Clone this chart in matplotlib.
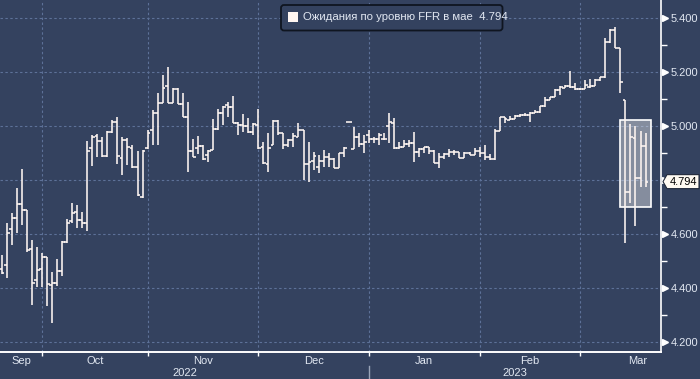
import numpy as np
import pandas as pd
import matplotlib
matplotlib.use("Agg")
import matplotlib.pyplot as plt
from matplotlib.patches import FancyBboxPatch, Rectangle, Polygon
from matplotlib.transforms import blended_transform_factory, ScaledTranslation, IdentityTransform

plt.rcParams['font.family'] = ['Liberation Sans', 'DejaVu Sans']

# ---------------- data ----------------
dates = pd.bdate_range('2022-09-20', '2023-03-17')

opens = [4.470, 4.485, 4.620, 4.660, 4.710, 4.690, 4.545, 4.430, 4.470, 4.515,
         4.410, 4.420, 4.463, 4.570, 4.650, 4.680, 4.652, 4.640, 4.920, 4.963,
         4.944, 4.888, 4.978, 5.015, 4.880, 4.948, 4.920, 4.848, 4.737, 4.918,
         4.985, 5.050, 5.085, 5.148, 5.085, 5.137, 5.080, 5.033, 4.907, 4.918,
         4.926, 4.893, 4.910, 4.990, 5.048, 5.076, 5.070, 5.011, 5.004, 5.000,
         4.978, 5.004, 4.922, 4.860, 4.930, 5.019, 4.974, 4.930, 4.948, 4.960,
         4.985, 4.860, 4.870, 4.850, 4.870, 4.885, 4.878, 4.844, 4.900, 5.015,
         4.915, 4.959, 4.933, 4.967, 4.952, 4.952, 4.952, 5.000, 5.011, 4.918,
         4.922, 4.933, 4.937, 4.904, 4.915, 4.922, 4.907, 4.863, 4.885, 4.896,
         4.904, 4.904, 4.881, 4.900, 4.893, 4.907, 4.900, 4.885, 4.878, 4.982,
         5.033, 5.022, 5.026, 5.037, 5.041, 5.041, 5.048, 5.052, 5.074, 5.096,
         5.107, 5.133, 5.141, 5.148, 5.144, 5.137, 5.137, 5.144, 5.148, 5.170,
         5.181, 5.311, 5.356, 5.289, 5.096, 4.757, 4.956, 4.807, 4.926]

highs = [4.522, 4.640, 4.678, 4.770, 4.840, 4.690, 4.578, 4.552, 4.530, 4.515,
         4.460, 4.507, 4.574, 4.656, 4.715, 4.707, 4.681, 4.944, 4.965, 4.970,
         4.960, 4.981, 5.022, 5.033, 4.959, 4.956, 4.930, 4.907, 4.911, 4.985,
         5.060, 5.122, 5.190, 5.220, 5.141, 5.140, 5.122, 5.090, 4.952, 4.963,
         4.930, 4.911, 5.026, 5.063, 5.074, 5.089, 5.111, 5.015, 5.044, 5.030,
         5.011, 5.063, 4.941, 4.974, 5.022, 5.022, 4.974, 4.952, 4.974, 5.011,
         4.985, 4.941, 4.904, 4.893, 4.910, 4.900, 4.881, 4.900, 4.922, 5.015,
         4.996, 4.974, 4.967, 4.985, 4.960, 4.974, 4.974, 5.048, 5.030, 4.941,
         4.948, 4.948, 4.978, 4.918, 4.922, 4.922, 4.911, 4.900, 4.900, 4.915,
         4.911, 4.904, 4.904, 4.904, 4.918, 4.922, 4.930, 4.896, 4.989, 5.033,
         5.033, 5.037, 5.041, 5.044, 5.048, 5.052, 5.059, 5.074, 5.107, 5.107,
         5.137, 5.148, 5.152, 5.204, 5.159, 5.141, 5.170, 5.174, 5.174, 5.181,
         5.326, 5.359, 5.367, 5.289, 5.096, 5.007, 5.000, 4.981, 4.974]

lows = [4.452, 4.437, 4.560, 4.605, 4.633, 4.535, 4.337, 4.404, 4.405, 4.333,
        4.270, 4.407, 4.444, 4.567, 4.640, 4.622, 4.622, 4.611, 4.852, 4.885,
        4.885, 4.885, 4.974, 4.859, 4.819, 4.856, 4.844, 4.741, 4.733, 4.915,
        4.930, 4.930, 5.085, 5.085, 5.085, 5.080, 5.033, 4.830, 4.885, 4.896,
        4.874, 4.867, 4.910, 4.985, 5.004, 5.033, 5.011, 4.967, 4.978, 4.974,
        4.967, 4.915, 4.859, 4.830, 4.930, 4.967, 4.915, 4.922, 4.922, 4.959,
        4.800, 4.793, 4.837, 4.826, 4.850, 4.848, 4.844, 4.844, 4.885, 5.015,
        4.915, 4.922, 4.900, 4.937, 4.937, 4.930, 4.948, 4.937, 4.915, 4.915,
        4.922, 4.922, 4.867, 4.885, 4.900, 4.896, 4.863, 4.844, 4.878, 4.885,
        4.893, 4.881, 4.881, 4.893, 4.893, 4.885, 4.874, 4.874, 4.874, 4.982,
        5.011, 5.022, 5.026, 5.033, 5.037, 5.015, 5.048, 5.048, 5.070, 5.096,
        5.107, 5.115, 5.141, 5.141, 5.133, 5.133, 5.137, 5.141, 5.148, 5.167,
        5.178, 5.307, 5.289, 5.122, 4.567, 4.715, 4.630, 4.774, 4.774]

closes = [4.455, 4.604, 4.660, 4.710, 4.690, 4.540, 4.420, 4.467, 4.515, 4.415,
          4.420, 4.463, 4.570, 4.640, 4.678, 4.652, 4.641, 4.907, 4.960, 4.944,
          4.888, 4.978, 5.015, 4.889, 4.948, 4.922, 4.848, 4.744, 4.907, 4.974,
          5.050, 5.085, 5.140, 5.085, 5.137, 5.082, 5.035, 4.907, 4.887, 4.926,
          4.878, 4.908, 4.989, 5.048, 5.070, 5.070, 5.011, 5.004, 5.000, 4.978,
          5.007, 4.918, 4.863, 4.918, 5.019, 4.974, 4.930, 4.948, 4.963, 4.985,
          4.859, 4.867, 4.889, 4.870, 4.885, 4.878, 4.844, 4.900, 4.918, 5.015,
          4.959, 4.933, 4.941, 4.952, 4.952, 4.967, 4.952, 5.015, 4.918, 4.922,
          4.933, 4.937, 4.904, 4.915, 4.922, 4.907, 4.863, 4.885, 4.896, 4.904,
          4.904, 4.881, 4.900, 4.893, 4.907, 4.900, 4.885, 4.878, 4.982, 5.033,
          5.026, 5.025, 5.037, 5.041, 5.041, 5.048, 5.052, 5.074, 5.096, 5.107,
          5.133, 5.144, 5.148, 5.144, 5.137, 5.137, 5.152, 5.148, 5.170, 5.181,
          5.311, 5.356, 5.289, 5.163, 4.757, 4.959, 4.807, 4.926, 4.794]

y_major = [4.2, 4.4, 4.6, 4.8, 5.0, 5.2, 5.4]
y_minor = [4.3, 4.5, 4.7, 4.9, 5.1, 5.3]
month_names = ['Sep', 'Oct', 'Nov', 'Dec', 'Jan', 'Feb', 'Mar']
year_names = ['2022', '2023']
legend_label = 'Ожидания по уровню FFR в мае'
last_value = closes[-1]

# highlight box (index units / price units)
box_x = (122.9, 129.1)
box_y = (4.700, 5.022)

# ---------------- style ----------------
BG = '#34425f'
GRID = '#5d7198'
BAR = '#fff6f2'
TXT = '#e2e8f2'

W, H = 700, 379
fig = plt.figure(figsize=(W / 100, H / 100), dpi=100, facecolor=BG)
ax_left, ax_bottom, ax_right, ax_top = 0, 27, 661, 379
ax = fig.add_axes([ax_left / W, ax_bottom / H, (ax_right - ax_left) / W, (ax_top - ax_bottom) / H])
ax.set_facecolor(BG)

x = np.arange(len(dates))
xmin, xmax = -0.34, 131.07
ax.set_xlim(xmin, xmax)
ax.set_ylim(4.163, 5.4667)

# OHLC bars
tick = 0.55
ax.vlines(x, lows, highs, color=BAR, lw=1.15, zorder=4)
ax.hlines(opens, x - tick, x, color=BAR, lw=1.15, zorder=4)
ax.hlines(closes, x, x + tick, color=BAR, lw=1.15, zorder=4)

# highlight box
ax.add_patch(Rectangle((box_x[0], box_y[0]), box_x[1] - box_x[0], box_y[1] - box_y[0],
                       facecolor=(1, 1, 1, 0.40), edgecolor='white', lw=1.2, zorder=3))

# month boundaries
mon = np.array(dates.month)
month_ends = [int(np.where(mon == m)[0][-1]) for m in [9, 10, 11, 12, 1, 2]]
mar_end = month_ends[-1] + len(pd.bdate_range('2023-03-01', '2023-03-31'))
edges = [xmin] + month_ends + [mar_end]
month_centers = [(edges[k] + edges[k + 1]) / 2 for k in range(len(month_names))]

ax.set_xticks(month_ends)
ax.tick_params(axis='x', which='major', length=3, width=1, color='white',
               direction='out', labelbottom=False)
ax.set_yticks(y_major)
ax.set_yticks(y_minor, minor=True)
ax.set_yticklabels([f'{v:.3f}' for v in y_major])
ax.yaxis.tick_right()
ax.tick_params(axis='y', which='major', length=0, pad=7, labelsize=8, labelcolor=TXT)
ax.tick_params(axis='y', which='minor', length=4, width=1, color='white', direction='out')
ax.grid(True, which='major', color=GRID, lw=0.8, linestyle=(0, (2.2, 2.2)), zorder=1)
ax.set_axisbelow(True)

for s in ['left', 'top']:
    ax.spines[s].set_visible(False)
ax.spines['right'].set_color('white')
ax.spines['right'].set_linewidth(1.2)
ax.spines['bottom'].set_color('white')
ax.spines['bottom'].set_linewidth(1.4)

# triangle markers on right axis
tr = blended_transform_factory(ax.transAxes, ax.transData) + ScaledTranslation(3.6 / 100, 0, fig.dpi_scale_trans)
ax.plot([1.0] * len(y_major), y_major, linestyle='none', marker='>', ms=4.6,
        color='white', mec='white', transform=tr, clip_on=False, zorder=5)

# month and year labels
bt = blended_transform_factory(ax.transData, ax.transAxes)
for name, c in zip(month_names, month_centers):
    ax.text(c, -8.5 / 352, name, transform=bt, ha='center', va='center', fontsize=8, color=TXT)
year_split = month_ends[3]
for name, c in zip(year_names, [(xmin + year_split) / 2, (year_split + xmax) / 2]):
    ax.text(c, -21 / 352, name, transform=bt, ha='center', va='center', fontsize=8, color=TXT)
ax.plot([year_split, year_split], [-14 / 352, -27 / 352], transform=bt, color='#9aa4b8',
        lw=1, clip_on=False)

# legend
leg = FancyBboxPatch((281, H - 30.5), 221.5, 25.5, boxstyle='round,pad=0,rounding_size=3',
                     transform=IdentityTransform(), facecolor=BG, edgecolor='#0f1520', lw=1.3)
fig.patches.append(leg)
sq = Rectangle((288, H - 22), 10, 10, transform=IdentityTransform(), facecolor=BAR, edgecolor='none')
fig.patches.append(sq)
fig.text(303 / W, 1 - 17.5 / H, f'{legend_label}  {last_value:.3f}', ha='left', va='center',
         fontsize=8.2, color=TXT)

# last value badge
ypix = ax.transData.transform((0, last_value))[1]
badge = Polygon([(663, ypix), (667, ypix + 7), (699, ypix + 7), (699, ypix - 7), (667, ypix - 7)],
                closed=True, transform=IdentityTransform(), facecolor='#fffaf2',
                edgecolor='#20283a', lw=0.8)
fig.patches.append(badge)
fig.text(683 / W, ypix / H, f'{last_value:.3f}', ha='center', va='center', fontsize=8, color='black')

fig.savefig('out.png', dpi=100, facecolor=BG)
